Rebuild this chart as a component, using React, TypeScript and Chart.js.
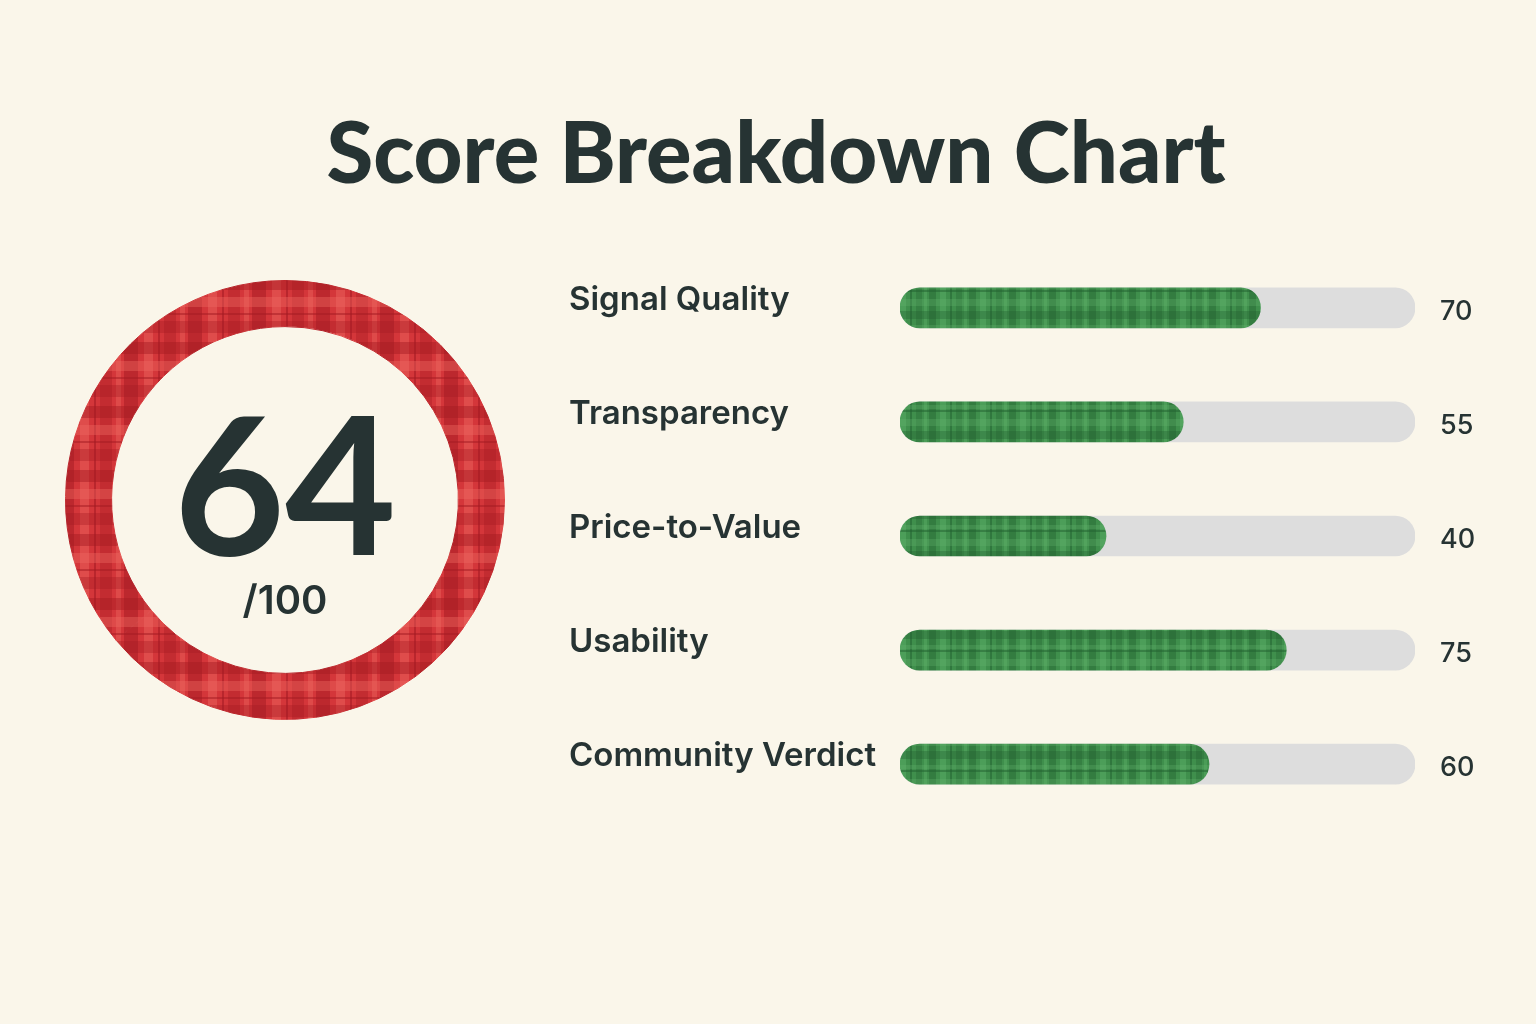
import React, { useEffect, useRef } from "react";
import { Chart, registerables } from "chart.js";

Chart.register(...registerables);

const TITLE = "Score Breakdown Chart";
const OVERALL_SCORE = 64;
const OVERALL_MAX = 100;
const categories = ["Signal Quality", "Transparency", "Price-to-Value", "Usability", "Community Verdict"];
const scores = [70, 55, 40, 75, 60];
const trackValues = [100, 100, 100, 100, 100];

const BG = "#faf6ea";
const INK = "#263333";
const FONT = "Lato, 'Open Sans', sans-serif";
const LABEL_FONT = "Inter, 'Open Sans', sans-serif";

function makePlaid(base: string, dark: string, light: string, size: number, vBands: any[], hBands: any[]) {
  const c = document.createElement("canvas");
  c.width = size;
  c.height = size;
  const g = c.getContext("2d")!;
  g.fillStyle = base;
  g.fillRect(0, 0, size, size);
  for (const [x, w, col, a] of vBands) {
    g.globalAlpha = a;
    g.fillStyle = col === "d" ? dark : light;
    g.fillRect(x, 0, w, size);
  }
  for (const [y, h, col, a] of hBands) {
    g.globalAlpha = a;
    g.fillStyle = col === "d" ? dark : light;
    g.fillRect(0, y, size, h);
  }
  g.globalAlpha = 1;
  return g.createPattern(c, "repeat")!;
}

export default function App() {
  const ringRef = useRef<HTMLCanvasElement>(null);
  const barRef = useRef<HTMLCanvasElement>(null);

  useEffect(() => {
    const red = makePlaid(
      "#d4363a",
      "#a31a22",
      "#ee6862",
      64,
      [[0, 14, "d", 0.5], [20, 9, "l", 0.45], [34, 2, "d", 0.55], [40, 12, "d", 0.35], [56, 5, "l", 0.4]],
      [[3, 12, "d", 0.45], [22, 10, "l", 0.4], [38, 2, "d", 0.5], [46, 12, "d", 0.35]]
    );
    const green = makePlaid(
      "#3f8f4c",
      "#225f30",
      "#62b46e",
      40,
      [[0, 7, "d", 0.4], [11, 6, "l", 0.4], [21, 2, "d", 0.5], [27, 6, "d", 0.3], [35, 3, "l", 0.35]],
      [[0, 8, "d", 0.35], [14, 4, "l", 0.3], [19, 2, "d", 0.5], [28, 7, "l", 0.3]]
    );

    const centerText = {
      id: "centerText",
      afterDraw(chart: any) {
        const { ctx, chartArea } = chart;
        const cx = (chartArea.left + chartArea.right) / 2;
        const cy = (chartArea.top + chartArea.bottom) / 2;
        ctx.save();
        ctx.fillStyle = INK;
        ctx.textAlign = "center";
        ctx.textBaseline = "alphabetic";
        ctx.font = `bold 192px ${FONT}`;
        ctx.fillText(String(OVERALL_SCORE), cx, cy + 55);
        ctx.font = `600 40px ${LABEL_FONT}`;
        ctx.fillText(`/${OVERALL_MAX}`, cx, cy + 114);
        ctx.restore();
      },
    };

    const ring = new Chart(ringRef.current!, {
      type: "doughnut",
      data: {
        labels: ["Score", "Remaining"],
        datasets: [
          {
            data: [OVERALL_SCORE, OVERALL_MAX - OVERALL_SCORE],
            backgroundColor: [red, red],
            borderColor: [red, red],
            borderWidth: 1,
          },
        ],
      },
      options: {
        animation: false,
        responsive: false,
        cutout: "79%",
        layout: { padding: 5 },
        plugins: { legend: { display: false }, tooltip: { enabled: false } },
      },
      plugins: [centerText],
    });

    const valueLabels = {
      id: "valueLabels",
      afterDatasetsDraw(chart: any) {
        const { ctx, chartArea } = chart;
        const meta = chart.getDatasetMeta(1);
        ctx.save();
        ctx.fillStyle = INK;
        ctx.font = `500 27px ${LABEL_FONT}`;
        ctx.textAlign = "left";
        ctx.textBaseline = "middle";
        meta.data.forEach((bar: any, i: number) => {
          ctx.fillText(String(scores[i]), chartArea.right + 25, bar.y + 4);
        });
        ctx.restore();
      },
    };

    const bars = new Chart(barRef.current!, {
      type: "bar",
      data: {
        labels: categories,
        datasets: [
          {
            label: "Track",
            data: trackValues,
            backgroundColor: "#dddddd",
            borderRadius: 20,
            borderSkipped: false,
            barThickness: 40,
            grouped: false,
            order: 2,
          },
          {
            label: "Score",
            data: scores,
            backgroundColor: green,
            borderRadius: 20,
            borderSkipped: false,
            barThickness: 40,
            grouped: false,
            order: 1,
          },
        ],
      },
      options: {
        indexAxis: "y",
        animation: false,
        responsive: false,
        layout: { padding: { top: 0, bottom: 0, right: 121, left: 0 } },
        plugins: { legend: { display: false }, tooltip: { enabled: false } },
        scales: {
          x: { min: 0, max: 100, display: false },
          y: {
            grid: { display: false },
            border: { display: false },
            afterFit(scale: any) {
              scale.width = 331;
            },
            ticks: {
              crossAlign: "far",
              labelOffset: -8,
              padding: 0,
              color: INK,
              font: { family: LABEL_FONT, size: 33, weight: 600 },
            },
          },
        },
      },
      plugins: [valueLabels],
    });

    return () => {
      ring.destroy();
      bars.destroy();
    };
  }, []);

  return (
    <div style={{ position: "fixed", left: 0, top: 0, width: 1536, height: 1024, background: BG, overflow: "hidden" }}>
      <div
        style={{
          position: "absolute",
          left: 0,
          width: 1536,
          top: 95,
          textAlign: "center",
          fontFamily: FONT,
          fontWeight: 900,
          fontSize: 85,
          color: INK,
          paddingLeft: 8,
          lineHeight: "110px",
        }}
      >
        {TITLE}
      </div>
      <canvas ref={ringRef} width={450} height={450} style={{ position: "absolute", left: 60, top: 275 }} />
      <canvas ref={barRef} width={967} height={610} style={{ position: "absolute", left: 569, top: 231 }} />
    </div>
  );
}
